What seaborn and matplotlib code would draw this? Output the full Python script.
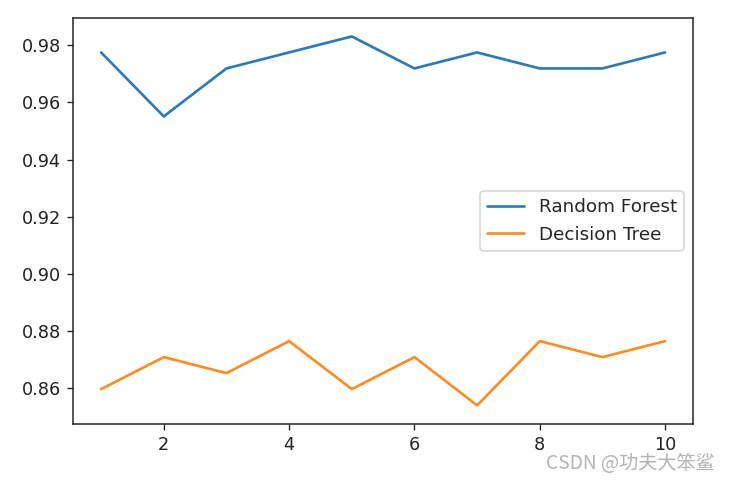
import numpy as np
import pandas as pd
import matplotlib
matplotlib.use("Agg")
import matplotlib.pyplot as plt
import seaborn as sns

n_estimators = [1, 2, 3, 4, 5, 6, 7, 8, 9, 10]
rf_scores = [0.9775, 0.9551, 0.9719, 0.9775, 0.9831, 0.9719, 0.9775, 0.9719, 0.9719, 0.9775]
dt_scores = [0.8596, 0.8708, 0.8652, 0.8764, 0.8596, 0.8708, 0.8539, 0.8764, 0.8708, 0.8764]
series_names = ["Random Forest", "Decision Tree"]

df = pd.DataFrame({
    "x": n_estimators * 2,
    "score": rf_scores + dt_scores,
    "model": [series_names[0]] * len(rf_scores) + [series_names[1]] * len(dt_scores),
})

sns.set_style("ticks")
plt.rcParams["font.family"] = ["DejaVu Sans"]

fig = plt.figure(figsize=(729 / 120, 480 / 120), dpi=120)
ax = fig.add_axes([0.100, 0.117, 0.851, 0.8455])
sns.lineplot(data=df, x="x", y="score", hue="model",
             palette=["#2b7bba", "#ff8c1f"], linewidth=1.6, ax=ax)
ax.set_xlabel("")
ax.set_ylabel("")
ax.set_yticks([0.86, 0.88, 0.90, 0.92, 0.94, 0.96, 0.98])
ax.set_yticklabels(["0.86", "0.88", "0.90", "0.92", "0.94", "0.96", "0.98"])
ax.set_xticks([2, 4, 6, 8, 10])
for s in ax.spines.values():
    s.set_visible(True)
    s.set_color("#222222")
    s.set_linewidth(0.9)
ax.tick_params(colors="#222222", labelsize=10.6, length=3.5, width=0.8)
leg = ax.legend(loc="center right", fontsize=11, frameon=True)
leg.set_title(None)

fig.text(0.981, 0.012, "CSDN @功夫大笨鲨", ha="right", va="bottom", fontsize=11.5,
         color="#b4b4b4", family=["Noto Sans CJK SC", "DejaVu Sans"])

fig.savefig("out.png", dpi=120, facecolor="white")
